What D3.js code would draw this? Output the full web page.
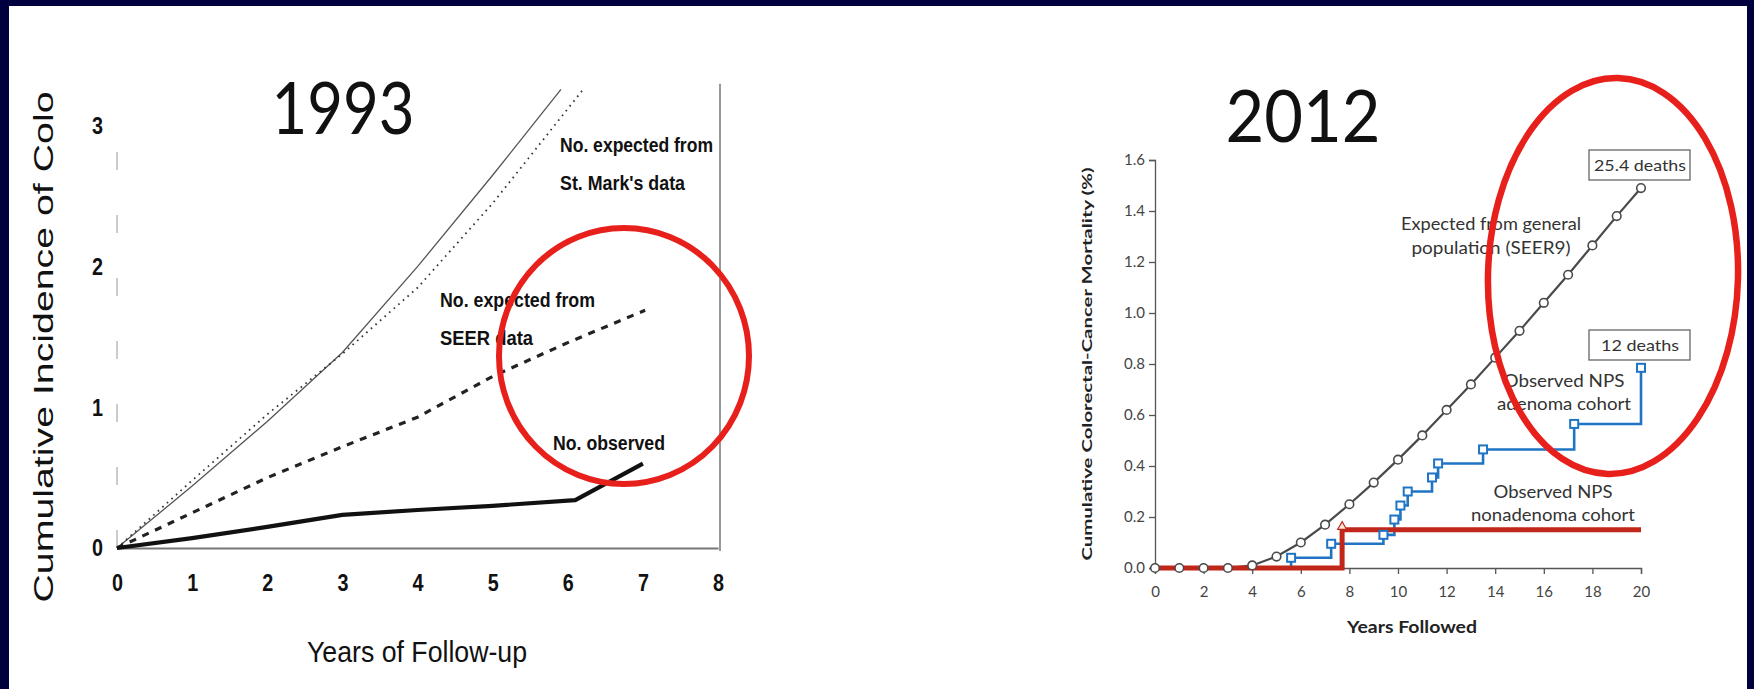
<!DOCTYPE html>
<html><head><meta charset="utf-8">
<script src="https://cdn.jsdelivr.net/npm/d3@7"></script>
<style>html,body{margin:0;padding:0;background:#00003f;} svg{display:block}</style>
</head><body>
<svg id="c" width="1754" height="689"></svg>
<script>
// ---------- 1993 panel data ----------
const leftXTicks = [0,1,2,3,4,5,6,7,8];
const leftYTicks = [0,1,2,3];
const stMarksSolidYears = [0,1,2,3,4,5,5.91];
const stMarksSolidValues = [0,0.44,0.9,1.39,2.0,2.65,3.26];
const stMarksDottedYears = [0,1,2,3,4,5,6.19];
const stMarksDottedValues = [0,0.48,0.95,1.38,1.85,2.45,3.25];
const seerYears = [0,1,2,3,4,5,6,7.03];
const seerValues = [0,0.25,0.5,0.72,0.93,1.22,1.46,1.69];
const observedYears = [0,1,2,3,4,5,6.1,7];
const observedValues = [0,0.07,0.15,0.235,0.27,0.30,0.34,0.60];

// ---------- 2012 panel data ----------
const rightXTicks = [0,2,4,6,8,10,12,14,16,18,20];
const rightYTicks = [0,0.2,0.4,0.6,0.8,1.0,1.2,1.4,1.6];
const expectedYears = [0,1,2,3,4,5,6,7,8,9,10,11,12,13,14,15,16,17,18,19,20];
const expectedValues = [0,0,0,0,0.01,0.045,0.10,0.17,0.25,0.335,0.425,0.52,0.62,0.72,0.825,0.93,1.04,1.15,1.265,1.38,1.49];
const adenomaYears = [0,5.6,7.25,9.4,9.85,10.1,10.4,11.4,11.65,13.5,17.25,20];
const adenomaValues = [0,0.04,0.095,0.13,0.19,0.245,0.30,0.355,0.41,0.465,0.565,0.785];
const nonadenomaYears = [0,7.7,20];
const nonadenomaValues = [0,0.15,0.15];

const svg = d3.select("#c");
svg.append("rect").attr("x",9).attr("y",6).attr("width",1738).attr("height",683).attr("fill","#ffffff");

const zip = (xs, ys) => xs.map((x,i)=>({x, y: ys[i]}));

// ================= LEFT (1993) =================
const xL = d3.scaleLinear().domain([0,8]).range([117,718]);
const yL = d3.scaleLinear().domain([0,3]).range([548,126]);
const LF = "'Liberation Sans', Arial, sans-serif";
const gL = svg.append("g");

// faint left axis
gL.append("line").attr("x1",xL(0)).attr("x2",xL(0)).attr("y1",yL(0)).attr("y2",yL(3.05))
  .attr("stroke","#bbb").attr("stroke-width",1.5).attr("stroke-dasharray","18,45");
// right frame line
gL.append("line").attr("x1",xL(8)+2).attr("x2",xL(8)+2).attr("y1",yL(0)+3).attr("y2",yL(3.3))
  .attr("stroke","#777").attr("stroke-width",1.5);

const axB = gL.append("g").attr("transform",`translate(0,${yL(0)})`)
  .call(d3.axisBottom(xL).tickValues(leftXTicks).tickSize(0).tickPadding(26).tickFormat(d3.format("d")));
axB.select(".domain").attr("stroke","#777").attr("stroke-width",2);
axB.selectAll("text").attr("font-family",LF).attr("font-weight","bold").attr("font-size",24)
  .attr("fill","#111").attr("textLength",11).attr("lengthAdjust","spacingAndGlyphs");

const axLft = gL.append("g").attr("transform",`translate(${xL(0)},0)`)
  .call(d3.axisLeft(yL).tickValues(leftYTicks).tickSize(0).tickPadding(14).tickFormat(d3.format("d")));
axLft.select(".domain").remove();
axLft.selectAll("text").attr("font-family",LF).attr("font-weight","bold").attr("font-size",24)
  .attr("fill","#111").attr("textLength",11).attr("lengthAdjust","spacingAndGlyphs");

const lineL = d3.line().x(d=>xL(d.x)).y(d=>yL(d.y));
gL.append("path").attr("d",lineL(zip(stMarksSolidYears,stMarksSolidValues)))
  .attr("fill","none").attr("stroke","#555").attr("stroke-width",1.3);
gL.append("path").attr("d",lineL(zip(stMarksDottedYears,stMarksDottedValues)))
  .attr("fill","none").attr("stroke","#333").attr("stroke-width",1.8).attr("stroke-dasharray","1.6,4.5");
gL.append("path").attr("d",lineL(zip(seerYears,seerValues)))
  .attr("fill","none").attr("stroke","#222").attr("stroke-width",3.2).attr("stroke-dasharray","7,7");
gL.append("path").attr("d",lineL(zip(observedYears,observedValues)))
  .attr("fill","none").attr("stroke","#111").attr("stroke-width",4.2).attr("stroke-linejoin","round");

function lbl(g, txt, x, y, opts){
  const t = g.append("text").attr("x",x).attr("y",y).text(txt)
    .attr("font-family",opts.ff).attr("font-size",opts.fs).attr("fill",opts.fill||"#111")
    .attr("text-anchor",opts.anchor||"start");
  if(opts.fw) t.attr("font-weight",opts.fw);
  if(opts.tl) t.attr("textLength",opts.tl).attr("lengthAdjust","spacingAndGlyphs");
  if(opts.rot) t.attr("transform",`rotate(${opts.rot},${x},${y})`);
  return t;
}
lbl(gL,"No. expected from",560,152,{ff:LF,fs:20,fw:"bold",tl:153});
lbl(gL,"St. Mark's data",560,190,{ff:LF,fs:20,fw:"bold",tl:125});
lbl(gL,"No. expected from",440,307,{ff:LF,fs:20,fw:"bold",tl:155});
lbl(gL,"SEER data",440,345,{ff:LF,fs:20,fw:"bold",tl:93});
lbl(gL,"No. observed",553,450,{ff:LF,fs:20,fw:"bold",tl:112});
lbl(gL,"Years of Follow-up",417,662,{ff:LF,fs:30,tl:220,anchor:"middle"});
lbl(gL,"Cumulative Incidence of Colo",53,347,{ff:LF,fs:27,tl:511,anchor:"middle",rot:-90});
lbl(gL,"1993",343,134,{ff:"Lato, sans-serif",fs:72,tl:143,anchor:"middle"});

// ================= RIGHT (2012) =================
const xR = d3.scaleLinear().domain([0,20]).range([1155,1641]);
const yR = d3.scaleLinear().domain([0,1.6]).range([568,160]);
const RF = "Lato, 'Noto Sans', sans-serif";
const gR = svg.append("g");

const axRB = gR.append("g").attr("transform",`translate(0,${yR(0)})`)
  .call(d3.axisBottom(xR).tickValues(rightXTicks).tickSize(6).tickPadding(12));
const axRL = gR.append("g").attr("transform",`translate(${xR(0)},0)`)
  .call(d3.axisLeft(yR).tickValues(rightYTicks).tickSize(6).tickPadding(4).tickFormat(d3.format(".1f")));
[axRB,axRL].forEach(a=>{
  a.select(".domain").attr("stroke","#555").attr("stroke-width",1.3);
  a.selectAll(".tick line").attr("stroke","#555").attr("stroke-width",1.3);
  a.selectAll("text").attr("font-family",RF).attr("font-size",15).attr("fill","#444");
});

const lineR = d3.line().x(d=>xR(d.x)).y(d=>yR(d.y));
const stepR = d3.line().x(d=>xR(d.x)).y(d=>yR(d.y)).curve(d3.curveStepAfter);
const expPts = zip(expectedYears,expectedValues);
const adPts = zip(adenomaYears,adenomaValues);
const nonPts = zip(nonadenomaYears,nonadenomaValues);

gR.append("path").attr("d",lineR(expPts)).attr("fill","none").attr("stroke","#4a4a4a").attr("stroke-width",2.2);
gR.append("path").attr("d",stepR(adPts)).attr("fill","none").attr("stroke","#1f74c4").attr("stroke-width",2.6);
gR.append("path").attr("d",stepR(nonPts)).attr("fill","none").attr("stroke","#c1261b").attr("stroke-width",5);

gR.selectAll("circle.exp").data(expPts).join("circle").attr("class","exp")
  .attr("cx",d=>xR(d.x)).attr("cy",d=>yR(d.y)).attr("r",4.3)
  .attr("fill","#fff").attr("stroke","#4a4a4a").attr("stroke-width",1.6);
gR.selectAll("rect.ad").data(adPts.slice(1)).join("rect").attr("class","ad")
  .attr("x",d=>xR(d.x)-4).attr("y",d=>yR(d.y)-4).attr("width",8).attr("height",8)
  .attr("fill","#fff").attr("stroke","#1f74c4").attr("stroke-width",2);
gR.selectAll("path.non").data(nonPts.slice(1,2)).join("path").attr("class","non")
  .attr("d",d3.symbol(d3.symbolTriangle,34))
  .attr("transform",d=>`translate(${xR(d.x)},${yR(d.y)-3})`)
  .attr("fill","#fde8d8").attr("stroke","#c1261b").attr("stroke-width",1.2);

// boxes
[[150,"25.4 deaths",92],[330,"12 deaths",78]].forEach(([top,txt,tl])=>{
  gR.append("rect").attr("x",1589).attr("y",top).attr("width",101).attr("height",30)
    .attr("fill","#fff").attr("stroke","#666").attr("stroke-width",1.3);
  lbl(gR,txt,1640,top+21,{ff:RF,fs:15,fill:"#333",tl:tl,anchor:"middle"});
});
lbl(gR,"Expected from general",1491,230,{ff:RF,fs:17,fill:"#333",tl:180,anchor:"middle"});
lbl(gR,"population (SEER9)",1491,254,{ff:RF,fs:17,fill:"#333",tl:159,anchor:"middle"});
lbl(gR,"Observed NPS",1564,387,{ff:RF,fs:17,fill:"#333",tl:121,anchor:"middle"});
lbl(gR,"adenoma cohort",1564,410,{ff:RF,fs:17,fill:"#333",tl:134,anchor:"middle"});
lbl(gR,"Observed NPS",1553,498,{ff:RF,fs:17,fill:"#333",tl:119,anchor:"middle"});
lbl(gR,"nonadenoma cohort",1553,521,{ff:RF,fs:17,fill:"#333",tl:164,anchor:"middle"});
lbl(gR,"Years Followed",1412,633,{ff:RF,fs:17,fw:"bold",fill:"#222",tl:130,anchor:"middle"});
lbl(gR,"Cumulative Colorectal-Cancer Mortality (%)",1092,364,{ff:RF,fs:13.5,fw:"bold",fill:"#222",tl:393,anchor:"middle",rot:-90});
lbl(gR,"2012",1303,142,{ff:"Lato, sans-serif",fs:72,tl:155,anchor:"middle"});

// red highlight ellipses
svg.append("ellipse").attr("cx",624).attr("cy",356).attr("rx",125).attr("ry",128)
  .attr("fill","none").attr("stroke","#e8201c").attr("stroke-width",6);
svg.append("ellipse").attr("cx",1613).attr("cy",276).attr("rx",125).attr("ry",198)
  .attr("transform","rotate(1.5,1613,276)")
  .attr("fill","none").attr("stroke","#e8201c").attr("stroke-width",6.5);
</script>
</body></html>
